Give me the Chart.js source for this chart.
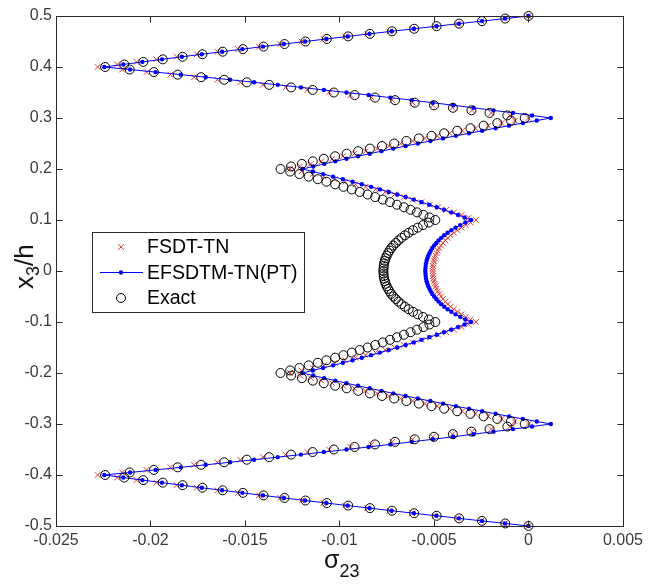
<!DOCTYPE html>
<html><head><meta charset="utf-8">
<script src="https://cdn.jsdelivr.net/npm/chart.js@4.4.1/dist/chart.umd.min.js"></script>
<style>html,body{margin:0;padding:0;background:#fff;}canvas{display:block;}</style>
</head><body>
<canvas id="c" width="648" height="586"></canvas>
<script>
// x3/h positions (top to bottom)
const x3h = [
 0.5,0.495,0.49,0.485,0.48,0.475,0.47,0.465,0.46,0.455,0.45,0.445,0.44,0.435,0.43,0.425,0.42,0.415,0.41,0.405,
 0.4,0.395,0.39,0.385,0.38,0.375,0.37,0.365,0.36,0.355,0.35,0.345,0.34,0.335,0.33,0.325,0.32,0.315,0.31,0.305,
 0.3,0.295,0.29,0.285,0.28,0.275,0.27,0.265,0.26,0.255,0.25,0.245,0.24,0.235,0.23,0.225,0.22,0.215,0.21,0.205,
 0.2,0.195,0.19,0.185,0.18,0.175,0.17,0.165,0.16,0.155,0.15,0.145,0.14,0.135,0.13,0.125,0.12,0.115,0.11,0.105,
 0.1,0.095,0.09,0.085,0.08,0.075,0.07,0.065,0.06,0.055,0.05,0.045,0.04,0.035,0.03,0.025,0.02,0.015,0.01,0.005,
 0,
 -0.005,-0.01,-0.015,-0.02,-0.025,-0.03,-0.035,-0.04,-0.045,-0.05,-0.055,-0.06,-0.065,-0.07,-0.075,-0.08,-0.085,-0.09,-0.095,-0.1,
 -0.105,-0.11,-0.115,-0.12,-0.125,-0.13,-0.135,-0.14,-0.145,-0.15,-0.155,-0.16,-0.165,-0.17,-0.175,-0.18,-0.185,-0.19,-0.195,-0.2,
 -0.205,-0.21,-0.215,-0.22,-0.225,-0.23,-0.235,-0.24,-0.245,-0.25,-0.255,-0.26,-0.265,-0.27,-0.275,-0.28,-0.285,-0.29,-0.295,-0.3,
 -0.305,-0.31,-0.315,-0.32,-0.325,-0.33,-0.335,-0.34,-0.345,-0.35,-0.355,-0.36,-0.365,-0.37,-0.375,-0.38,-0.385,-0.39,-0.395,-0.4,
 -0.405,-0.41,-0.415,-0.42,-0.425,-0.43,-0.435,-0.44,-0.445,-0.45,-0.455,-0.46,-0.465,-0.47,-0.475,-0.48,-0.485,-0.49,-0.495,-0.5
];

// sigma_23, FSDT-TN
const fsdtTN = [
 0,-0.00125,-0.0025,-0.00373,-0.00494,-0.00615,-0.00734,-0.00853,-0.0097,-0.01085,-0.012,-0.01313,-0.01426,-0.01537,-0.01646,-0.01755,-0.01862,-0.01969,-0.02074,-0.02177,-0.0228,
 -0.0215,-0.02021,-0.01895,-0.0177,-0.01646,-0.01525,-0.01405,-0.01286,-0.0117,-0.01055,-0.00942,-0.0083,-0.00721,-0.00613,-0.00506,-0.00402,-0.00299,-0.00197,-0.00098,0,
 -0.00072,-0.00142,-0.00213,-0.00281,-0.0035,-0.00417,-0.00483,-0.00548,-0.00613,-0.00676,-0.00739,-0.00801,-0.00862,-0.00921,-0.00981,-0.01039,-0.01096,-0.01152,-0.01208,-0.01262,
 -0.01201,-0.01142,-0.01083,-0.01026,-0.0097,-0.00915,-0.00862,-0.00809,-0.00758,-0.00709,-0.0066,-0.00613,-0.00566,-0.00522,-0.00478,-0.00435,-0.00394,-0.00354,-0.00316,-0.00278,
 -0.00306,-0.00332,-0.00355,-0.00376,-0.00395,-0.00412,-0.00427,-0.0044,-0.00452,-0.00463,-0.00472,-0.0048,-0.00486,-0.00492,-0.00497,-0.005,-0.00503,-0.00505,-0.00506,-0.00507,
 -0.00506,-0.00505,-0.00503,-0.005,-0.00497,-0.00492,-0.00486,-0.0048,-0.00472,-0.00463,-0.00452,-0.0044,-0.00427,-0.00412,-0.00395,-0.00376,-0.00355,-0.00332,-0.00306,-0.00278,
 -0.00316,-0.00354,-0.00394,-0.00435,-0.00478,-0.00522,-0.00566,-0.00613,-0.0066,-0.00709,-0.00758,-0.00809,-0.00862,-0.00915,-0.0097,-0.01026,-0.01083,-0.01142,-0.01201,-0.01262,
 -0.01208,-0.01152,-0.01096,-0.01039,-0.00981,-0.00921,-0.00862,-0.00801,-0.00739,-0.00676,-0.00613,-0.00548,-0.00483,-0.00417,-0.0035,-0.00281,-0.00213,-0.00142,-0.00072,0,
 -0.00098,-0.00197,-0.00299,-0.00402,-0.00506,-0.00613,-0.00721,-0.0083,-0.00942,-0.01055,-0.0117,-0.01286,-0.01405,-0.01525,-0.01646,-0.0177,-0.01895,-0.02021,-0.0215,-0.0228,
 -0.02177,-0.02074,-0.01969,-0.01862,-0.01755,-0.01646,-0.01537,-0.01426,-0.01313,-0.012,-0.01085,-0.0097,-0.00853,-0.00734,-0.00615,-0.00494,-0.00373,-0.0025,-0.00125,0
];

// sigma_23, EFSDTM-TN(PT)
const efsdtmTN = [
 0,-0.00124,-0.00246,-0.00368,-0.00487,-0.00606,-0.00724,-0.00841,-0.00956,-0.01069,-0.01182,-0.01294,-0.01405,-0.01514,-0.01621,-0.01729,-0.01834,-0.01939,-0.02043,-0.02144,-0.02245,
 -0.02108,-0.01973,-0.0184,-0.01708,-0.01579,-0.01452,-0.01327,-0.01204,-0.01083,-0.00963,-0.00846,-0.00731,-0.00618,-0.00507,-0.00398,-0.00291,-0.00185,-0.00082,0.00019,0.00118,
 0.00044,-0.0003,-0.00103,-0.00174,-0.00245,-0.00315,-0.00384,-0.00452,-0.00519,-0.00585,-0.0065,-0.00715,-0.00778,-0.0084,-0.00902,-0.00963,-0.01022,-0.01081,-0.01139,-0.01196,
 -0.01141,-0.01087,-0.01034,-0.00982,-0.00931,-0.00882,-0.00833,-0.00786,-0.00739,-0.00694,-0.0065,-0.00607,-0.00566,-0.00525,-0.00485,-0.00447,-0.00409,-0.00373,-0.00338,-0.00304,
 -0.00334,-0.00361,-0.00386,-0.00408,-0.00428,-0.00446,-0.00462,-0.00476,-0.00488,-0.00499,-0.00509,-0.00517,-0.00524,-0.0053,-0.00535,-0.00539,-0.00542,-0.00544,-0.00545,-0.00546,
 -0.00545,-0.00544,-0.00542,-0.00539,-0.00535,-0.0053,-0.00524,-0.00517,-0.00509,-0.00499,-0.00488,-0.00476,-0.00462,-0.00446,-0.00428,-0.00408,-0.00386,-0.00361,-0.00334,-0.00304,
 -0.00338,-0.00373,-0.00409,-0.00447,-0.00485,-0.00525,-0.00566,-0.00607,-0.0065,-0.00694,-0.00739,-0.00786,-0.00833,-0.00882,-0.00931,-0.00982,-0.01034,-0.01087,-0.01141,-0.01196,
 -0.01139,-0.01081,-0.01022,-0.00963,-0.00902,-0.0084,-0.00778,-0.00715,-0.0065,-0.00585,-0.00519,-0.00452,-0.00384,-0.00315,-0.00245,-0.00174,-0.00103,-0.0003,0.00044,0.00118,
 0.00019,-0.00082,-0.00185,-0.00291,-0.00398,-0.00507,-0.00618,-0.00731,-0.00846,-0.00963,-0.01083,-0.01204,-0.01327,-0.01452,-0.01579,-0.01708,-0.0184,-0.01973,-0.02108,-0.02245,
 -0.02144,-0.02043,-0.01939,-0.01834,-0.01729,-0.01621,-0.01514,-0.01405,-0.01294,-0.01182,-0.01069,-0.00956,-0.00841,-0.00724,-0.00606,-0.00487,-0.00368,-0.00246,-0.00124,0
];

// sigma_23, Exact
const exact = [
 0,-0.00123,-0.00246,-0.00367,-0.00486,-0.00605,-0.00722,-0.00839,-0.00954,-0.01067,-0.0118,-0.01291,-0.01402,-0.01511,-0.01618,-0.01725,-0.0183,-0.01935,-0.02038,-0.02139,-0.0224,
 -0.0211,-0.01982,-0.01856,-0.01732,-0.0161,-0.0149,-0.01372,-0.01256,-0.01142,-0.0103,-0.0092,-0.00812,-0.00706,-0.00602,-0.005,-0.004,-0.00302,-0.00206,-0.00112,-0.0002,
 -0.00093,-0.00165,-0.00237,-0.00307,-0.00377,-0.00446,-0.00513,-0.0058,-0.00646,-0.00711,-0.00775,-0.00839,-0.00901,-0.00962,-0.01023,-0.01083,-0.01141,-0.01199,-0.01256,-0.01312,
 -0.01261,-0.01212,-0.01163,-0.01115,-0.01069,-0.01023,-0.00979,-0.00935,-0.00893,-0.00851,-0.00811,-0.00771,-0.00733,-0.00696,-0.00659,-0.00624,-0.0059,-0.00556,-0.00524,-0.00493,
 -0.00527,-0.00558,-0.00586,-0.00611,-0.00634,-0.00654,-0.00672,-0.00688,-0.00702,-0.00715,-0.00726,-0.00735,-0.00743,-0.0075,-0.00756,-0.0076,-0.00764,-0.00766,-0.00767,-0.00768,
 -0.00767,-0.00766,-0.00764,-0.0076,-0.00756,-0.0075,-0.00743,-0.00735,-0.00726,-0.00715,-0.00702,-0.00688,-0.00672,-0.00654,-0.00634,-0.00611,-0.00586,-0.00558,-0.00527,-0.00493,
 -0.00524,-0.00556,-0.0059,-0.00624,-0.00659,-0.00696,-0.00733,-0.00771,-0.00811,-0.00851,-0.00893,-0.00935,-0.00979,-0.01023,-0.01069,-0.01115,-0.01163,-0.01212,-0.01261,-0.01312,
 -0.01256,-0.01199,-0.01141,-0.01083,-0.01023,-0.00962,-0.00901,-0.00839,-0.00775,-0.00711,-0.00646,-0.0058,-0.00513,-0.00446,-0.00377,-0.00307,-0.00237,-0.00165,-0.00093,-0.0002,
 -0.00112,-0.00206,-0.00302,-0.004,-0.005,-0.00602,-0.00706,-0.00812,-0.0092,-0.0103,-0.01142,-0.01256,-0.01372,-0.0149,-0.0161,-0.01732,-0.01856,-0.01982,-0.0211,-0.0224,
 -0.02139,-0.02038,-0.01935,-0.0183,-0.01725,-0.01618,-0.01511,-0.01402,-0.01291,-0.0118,-0.01067,-0.00954,-0.00839,-0.00722,-0.00605,-0.00486,-0.00367,-0.00246,-0.00123,0
];

const seriesNames = ['FSDT-TN', 'EFSDTM-TN(PT)', 'Exact'];
const xTickLabels = ['-0.025', '-0.02', '-0.015', '-0.01', '-0.005', '0', '0.005'];
const yTickLabels = ['-0.5', '-0.4', '-0.3', '-0.2', '-0.1', '0', '0.1', '0.2', '0.3', '0.4', '0.5'];

const FONT = "'Liberation Sans', Arial, sans-serif";
const pts = arr => arr.map((v, i) => ({x: v, y: x3h[i]}));

const frame = {
  id: 'frame',
  afterDatasetsDraw(chart) {
    const {ctx, chartArea: a, scales: {x, y}} = chart;
    ctx.save();
    ctx.strokeStyle = '#2a2a2a';
    ctx.lineWidth = 1;
    const L = Math.round(a.left) + 0.5, R = Math.round(a.right) + 0.5;
    const T = Math.round(a.top) + 0.5, B = Math.round(a.bottom) + 0.5;
    ctx.strokeRect(L, T, R - L, B - T);
    ctx.beginPath();
    const tl = 6;
    x.ticks.forEach(t => {
      const px = Math.round(x.getPixelForValue(t.value)) + 0.5;
      ctx.moveTo(px, B); ctx.lineTo(px, B - tl);
      ctx.moveTo(px, T); ctx.lineTo(px, T + tl);
    });
    y.ticks.forEach(t => {
      const py = Math.round(y.getPixelForValue(t.value)) + 0.5;
      ctx.moveTo(L, py); ctx.lineTo(L + tl, py);
      ctx.moveTo(R, py); ctx.lineTo(R - tl, py);
    });
    ctx.stroke();

    // axis titles
    ctx.fillStyle = '#111';
    ctx.textBaseline = 'alphabetic';
    ctx.textAlign = 'left';
    ctx.font = '25px ' + FONT;
    const sx = 324, sy = 568;
    ctx.fillText('σ', sx, sy);
    const sw = ctx.measureText('σ').width;
    ctx.font = '18px ' + FONT;
    ctx.fillText('23', sx + sw, sy + 9);

    ctx.save();
    ctx.translate(33, 289);
    ctx.rotate(-Math.PI / 2);
    ctx.font = '26px ' + FONT;
    ctx.fillText('x', 0, 0);
    let w = ctx.measureText('x').width;
    ctx.font = '18px ' + FONT;
    ctx.fillText('3', w, 6);
    w += ctx.measureText('3').width;
    ctx.font = '26px ' + FONT;
    ctx.fillText('/h', w, 0);
    ctx.restore();

    // legend
    const lx = 92.5, ly = 232.5, lw = 212, lh = 80;
    ctx.fillStyle = '#fff';
    ctx.fillRect(lx, ly, lw, lh);
    ctx.strokeStyle = '#2a2a2a';
    ctx.strokeRect(lx, ly, lw, lh);
    const mx = 121, rows = [247, 272.5, 298];
    const ds = chart.data.datasets;
    // FSDT-TN marker
    ctx.strokeStyle = ds[0].borderColor; ctx.lineWidth = 1;
    ctx.beginPath();
    const r0 = ds[0].pointRadius * Math.SQRT1_2;
    ctx.moveTo(mx - r0, rows[0] - r0); ctx.lineTo(mx + r0, rows[0] + r0);
    ctx.moveTo(mx - r0, rows[0] + r0); ctx.lineTo(mx + r0, rows[0] - r0);
    ctx.stroke();
    // EFSDTM line+dot
    ctx.strokeStyle = ds[1].borderColor;
    ctx.beginPath(); ctx.moveTo(100, rows[1]); ctx.lineTo(143, rows[1]); ctx.stroke();
    ctx.fillStyle = ds[1].pointBackgroundColor;
    ctx.beginPath(); ctx.arc(mx, rows[1], ds[1].pointRadius, 0, Math.PI * 2); ctx.fill();
    // Exact circle
    ctx.strokeStyle = ds[2].pointBorderColor;
    ctx.beginPath(); ctx.arc(mx, rows[2], ds[2].pointRadius, 0, Math.PI * 2); ctx.stroke();

    ctx.fillStyle = '#000';
    ctx.font = '19.5px ' + FONT;
    ctx.textBaseline = 'middle';
    seriesNames.forEach((n, i) => ctx.fillText(n, 147, rows[i] + 1));
    ctx.restore();
  }
};

const tickFont = {family: FONT, size: 16};
new Chart(document.getElementById('c'), {
  type: 'scatter',
  data: {
    datasets: [
      {label: seriesNames[0], data: pts(fsdtTN), pointStyle: 'crossRot', pointRadius: 4,
       borderColor: '#e0403c', backgroundColor: '#e0403c', pointBorderWidth: 1, showLine: false, order: 3, clip: false},
      {label: seriesNames[1], data: pts(efsdtmTN), showLine: true, borderColor: '#0000ff', borderWidth: 1,
       pointRadius: 2.2, pointBackgroundColor: '#0000ff', pointBorderColor: '#0000ff', pointBorderWidth: 0,
       tension: 0, order: 2, clip: false},
      {label: seriesNames[2], data: pts(exact), pointStyle: 'circle', pointRadius: 4.5,
       pointBackgroundColor: 'rgba(0,0,0,0)', pointBorderColor: '#000', pointBorderWidth: 1, borderColor: '#000',
       showLine: false, order: 1, clip: false}
    ]
  },
  options: {
    responsive: false, animation: false, devicePixelRatio: 1,
    layout: {padding: {top: 16, right: 24, left: 0, bottom: 0}},
    plugins: {legend: {display: false}, tooltip: {enabled: false}},
    scales: {
      x: {type: 'linear', min: -0.025, max: 0.005,
          grid: {display: false, drawTicks: false, tickLength: 0}, border: {display: false},
          ticks: {stepSize: 0.005, autoSkip: false, maxRotation: 0, minRotation: 0, padding: 5,
                  color: '#3a3a3a', font: tickFont, callback: (v, i) => xTickLabels[i]},
          afterFit: s => { s.height = 60; }},
      y: {type: 'linear', min: -0.5, max: 0.5,
          grid: {display: false, drawTicks: false, tickLength: 0}, border: {display: false},
          ticks: {stepSize: 0.1, autoSkip: false, padding: 4,
                  color: '#3a3a3a', font: tickFont, callback: (v, i) => yTickLabels[i]},
          afterFit: s => { s.width = 56; }}
    }
  },
  plugins: [frame]
});
</script>
</body></html>
